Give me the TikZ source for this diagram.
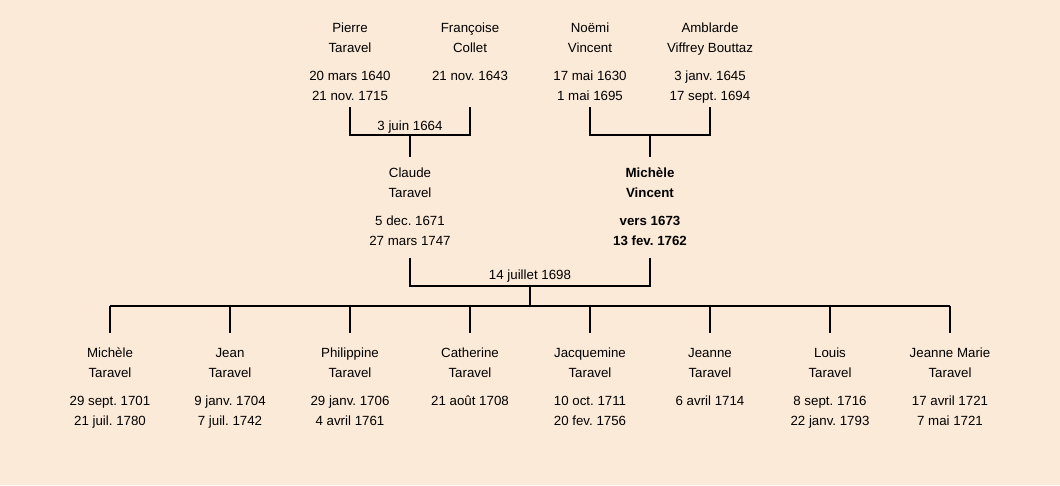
\documentclass[tikz,border=0pt]{standalone}
\usepackage{fontspec}
\setmainfont{Liberation Sans}
\frenchspacing
\definecolor{bg}{RGB}{252,234,216}
\newcommand{\pfont}{\fontsize{13.3}{20}\selectfont}
\begin{document}
\begin{tikzpicture}[x=1pt,y=-1pt,
  person/.style={anchor=north, align=center, inner sep=0pt, font=\pfont},
  lbl/.style={anchor=center, inner sep=0pt, font=\pfont},
  link/.style={line width=2pt}]
\fill[bg] (0,0) rectangle (1060,485);
\useasboundingbox (0,0) rectangle (1060,485);
% grandparents
\node[person] (pierre) at (350,18.5) {\strut Pierre\\Taravel\\[8pt]20 mars 1640\\21 nov. 1715};
\node[person] (francoise) at (470,18.5) {\strut Françoise\\Collet\\[8pt]21 nov. 1643};
\node[person] (noemi) at (590,18.5) {\strut Noëmi\\Vincent\\[8pt]17 mai 1630\\1 mai 1695};
\node[person] (amblarde) at (710,18.5) {\strut Amblarde\\Viffrey Bouttaz\\[8pt]3 janv. 1645\\17 sept. 1694};
% parents
\node[person] (claude) at (410,163.5) {\strut Claude\\Taravel\\[8pt]5 dec. 1671\\27 mars 1747};
\node[person, font=\pfont\bfseries] (michele) at (650,163.5) {\strut Michèle\\Vincent\\[8pt]vers 1673\\13 fev. 1762};
% children
\node[person] (c1) at (110,343.5) {\strut Michèle\\Taravel\\[8pt]29 sept. 1701\\21 juil. 1780};
\node[person] (c2) at (230,343.5) {\strut Jean\\Taravel\\[8pt]9 janv. 1704\\7 juil. 1742};
\node[person] (c3) at (350,343.5) {\strut Philippine\\Taravel\\[8pt]29 janv. 1706\\4 avril 1761};
\node[person] (c4) at (470,343.5) {\strut Catherine\\Taravel\\[8pt]21 août 1708};
\node[person] (c5) at (590,343.5) {\strut Jacquemine\\Taravel\\[8pt]10 oct. 1711\\20 fev. 1756};
\node[person] (c6) at (710,343.5) {\strut Jeanne\\Taravel\\[8pt]6 avril 1714};
\node[person] (c7) at (830,343.5) {\strut Louis\\Taravel\\[8pt]8 sept. 1716\\22 janv. 1793};
\node[person] (c8) at (950,343.5) {\strut Jeanne Marie\\Taravel\\[8pt]17 avril 1721\\7 mai 1721};
% coordinates for the connectors
\coordinate (pa) at (350,107); \coordinate (fa) at (470,107);
\coordinate (na) at (590,107); \coordinate (aa) at (710,107);
\coordinate (m1) at (410,135); \coordinate (m2) at (650,135);
\coordinate (ct) at (410,157); \coordinate (mt) at (650,157);
\coordinate (cb) at (410,258); \coordinate (mb) at (650,258);
\coordinate (m3) at (530,286); \coordinate (bar) at (530,306);
\coordinate (b1) at (110,306); \coordinate (b8) at (950,306);
% marriages
\draw[link] (pa) |- (m1) -| (fa);
\draw[link] (m1) -- (ct);
\node[lbl] (mar1) at (410,127) {3 juin 1664};
\draw[link] (na) |- (m2) -| (aa);
\draw[link] (m2) -- (mt);
\draw[link] (cb) |- (m3) -| (mb);
\node[lbl] (mar2) at (530,276.5) {14 juillet 1698};
\draw[link] (m3) -- (bar);
\draw[link] (b1) -- (b8);
\foreach \x in {110,230,350,470,590,710,830,950}{
  \draw[link] (\x,306) -- (\x,333);
}
\end{tikzpicture}
\end{document}
